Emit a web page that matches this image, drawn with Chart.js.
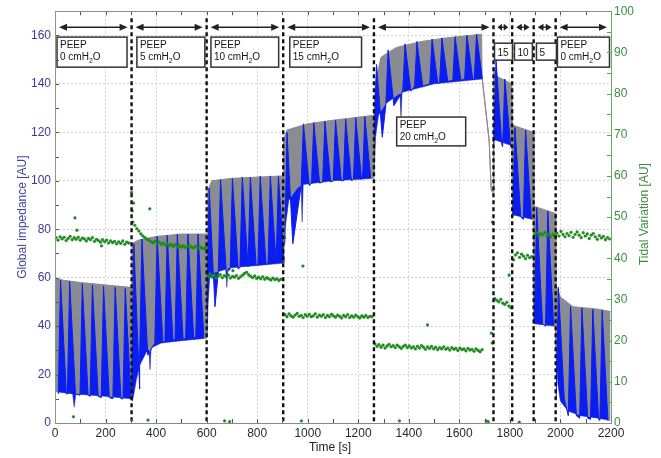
<!DOCTYPE html>
<html>
<head>
<meta charset="utf-8">
<script src="https://cdn.jsdelivr.net/npm/chart.js@4.4.1/dist/chart.umd.min.js"></script>
<style>
  html, body { margin: 0; padding: 0; background: #fff; }
  #wrap { width: 661px; height: 458px; }
</style>
</head>
<body>
<div id="wrap"><canvas id="eit" width="661" height="458"></canvas></div>
<script>
// PEEP trial: global impedance (left) + tidal variation (right)

const peepBounds = [0, 303, 600, 903, 1262, 1735, 1809, 1894, 1981, 2200];
const peepLabels = [
  ["PEEP", "0 cmH_2O"], ["PEEP", "5 cmH_2O"], ["PEEP", "10 cmH_2O"], ["PEEP", "15 cmH_2O"],
  ["PEEP", "20 cmH_2O"], ["15"], ["10"], ["5"], ["PEEP", "0 cmH_2O"],
];

// impedance trace envelope [t (s), AU]
const impUpper = [
  [0, 60], [30, 59], [100, 58], [200, 57], [300, 56], [303, 56], [304, 74], [330, 75.5],
  [400, 77], [500, 78], [600, 78], [602, 78], [605, 96], [620, 100], [700, 101], [800, 101.5],
  [903, 102], [904, 117], [918, 121], [1000, 123.5], [1100, 125], [1261, 127], [1262, 128],
  [1268, 141], [1290, 151], [1350, 155], [1450, 157.5], [1550, 159], [1688, 160.5], [1690, 143],
  [1718, 117], [1726, 97], [1734, 96], [1736, 147], [1750, 143], [1808, 140], [1810, 123],
  [1893, 120], [1895, 89.5], [1980, 86.5], [1982, 57], [2000, 52], [2050, 48], [2150, 47], [2198, 46],
];
const impLower = [
  [0, 13], [70, 12], [76, 6.5], [82, 12], [200, 11], [302, 10], [306, 9], [312, 12], [322, 18],
  [336, 24], [360, 29], [372, 30.5], [376, 22], [380, 31], [420, 33], [500, 34], [600, 35],
  [602, 36], [606, 50], [612, 60], [630, 62], [676, 63.5], [680, 56], [684, 64], [800, 65],
  [903, 66], [910, 80], [925, 92], [960, 97], [974, 98], [978, 83], [982, 98.5], [1100, 100],
  [1261, 101], [1263, 103], [1268, 118], [1280, 127], [1310, 132], [1365, 136], [1369, 126],
  [1373, 136.5], [1500, 140], [1688, 142], [1690, 142], [1718, 116], [1726, 96], [1734, 95],
  [1736, 117], [1808, 114.5], [1810, 86], [1893, 84], [1895, 41], [1980, 40], [1982, 30],
  [1990, 16], [2000, 9], [2030, 5], [2080, 3], [2150, 2], [2198, 1],
];

// blue teeth in each PEEP step: time, peak and foot (AU)
const toothTimes = [
  [22, 58, 108, 148, 192, 238, 278],
  [312, 344, 404, 444, 484, 526, 566],
  [610, 655, 702, 741, 773, 812, 852, 884],
  [918, 983, 1024, 1068, 1110, 1150, 1190, 1226],
  [1272, 1318, 1385, 1432, 1492, 1531, 1583, 1630, 1668],
  [1745, 1780], [1820, 1862], [1906, 1950],
  [1992, 2040, 2085, 2128, 2165],
];
const toothPeak = [
  [59, 58.5, 57.5, 57, 56.5, 56, 55.5],
  [74, 76, 77, 77.5, 78, 78, 78],
  [97, 100.5, 101, 101.5, 101.5, 102, 102, 102],
  [120, 123.5, 124, 124.5, 125, 125.5, 126, 126.5],
  [148, 154, 156.5, 157.5, 158.5, 159, 159.5, 160, 160.5],
  [150, 142], [122, 121], [89, 87.5],
  [56, 48, 47.5, 47, 46.5],
];
const toothFoot = [
  [12, 12, 11.5, 11, 10.5, 10, 10],
  [14, 28, 33, 34, 34.5, 35, 35.5],
  [48, 62, 63.5, 64.5, 65, 65.5, 66, 66],
  [74, 98, 99, 99.5, 100, 100, 100.5, 101],
  [118, 131, 137, 139, 140, 141, 141.5, 142, 142],
  [115, 114], [85, 84], [41, 40],
  [10, 3, 2, 1.5, 1],
];

// tidal variation, one sample every 8 s from the step start
const TIDAL_DT = 8;
const tidalStart = [4, 308, 606, 910, 1266, 1740, 1814, 1898, 1986];
const tidalValues = [
  [45.0,44.4,45.2,44.7,45.1,44.3,44.8,45.3,44.5,45.0,44.6,45.1,44.4,44.9,44.7,44.2,44.8,44.5,45.0,44.1,
   44.6,44.3,43.9,44.5,44.0,44.4,43.7,44.2,43.8,44.1,43.5,44.0,43.6,44.2,43.4,43.9,43.7],
  [48.8,48.0,47.2,46.6,45.9,45.4,45.0,44.6,44.4,44.0,43.8,44.1,43.6,43.9,43.4,43.7,43.2,43.5,43.0,43.4,
   42.9,43.3,42.8,43.1,42.7,43.0,42.6,42.9,43.2,42.7,42.5,42.9,42.4,42.8,42.5,42.3,42.6],
  [35.6,36.2,35.4,35.9,35.2,35.7,36.0,35.3,35.8,35.5,35.9,35.2,35.6,35.4,35.8,35.1,35.5,35.9,36.3,36.6,
   36.0,35.6,35.3,35.7,35.1,35.4,35.0,35.5,34.9,35.3,35.0,34.7,35.2,34.8,35.0,34.6,34.9],
  [26.3,25.8,26.5,26.0,25.7,26.2,26.6,25.9,26.1,25.6,26.3,25.9,26.4,25.8,26.0,26.5,25.7,26.2,25.9,26.3,
   25.6,26.1,25.8,26.4,26.0,25.7,26.2,25.9,25.5,26.1,25.8,26.3,25.6,26.0,25.7,26.2,25.8,25.5,26.0,25.7,
   26.1,25.6,25.9,25.8],
  [19.2,18.6,19.0,18.4,18.9,18.2,18.7,19.1,18.5,18.8,18.3,18.9,18.5,18.1,18.6,18.9,18.3,18.7,18.2,18.5,
   18.0,18.6,18.2,18.8,18.4,17.9,18.5,18.1,18.6,18.0,18.4,17.8,18.3,18.0,18.5,17.9,18.2,17.7,18.3,17.9,
   18.1,17.6,18.2,17.8,18.0,17.5,18.1,17.7,17.9,17.4,18.0,17.6,17.3,17.8],
  [30.2,29.8,29.4,30.0,29.1,28.8,29.3,28.4,28.0],
  [39.6,40.8,41.3,40.2,41.0,40.5,39.9,40.7,40.1,40.4],
  [45.6,46.2,45.4,46.0,45.7,46.3,45.5,45.9,45.2,45.8,45.4],
  [46.1,45.4,46.5,45.8,45.2,46.0,45.5,46.3,45.1,45.8,46.4,45.6,45.0,46.2,45.4,45.9,44.8,45.6,46.0,45.2,
   44.6,45.5,44.9,45.3,44.5,45.0,44.7],
];
const tidalOutT = [73, 79, 87, 184, 303, 305, 311, 368, 375, 671, 691, 704, 908, 975, 981, 1363, 1474, 1706, 1714, 1727, 1730, 1731, 1797, 1837];
const tidalOutV = [1.5, 49.8, 46.8, 43.0, 56.0, 51.5, 53.4, 0.7, 52.0, 0.5, 0.3, 37.0, 45.0, 0.5, 38.1, 0.5, 23.8, 0.5, 0.3, 21.8, 19.4, 48.8, 35.9, 0.2];

// ---- layout / style ----
const FONT = '"Liberation Sans", Arial, sans-serif';
const GRAY = "#8b8b94";
const BLUE = "#0a1ef2";
const GREEN = "#1c8a1c";
const TOOTH_LEAD = 9, TOOTH_TAIL = 23;

// label boxes in data units (time, left-axis AU)
const labelBoxes = [
  { t0: 8, t1: 285, top: 159.3, bottom: 146.9 },
  { t0: 324, t1: 593, top: 159.3, bottom: 146.9 },
  { t0: 617, t1: 885, top: 159.3, bottom: 146.9 },
  { t0: 929, t1: 1213, top: 159.3, bottom: 146.9 },
  { t0: 1352, t1: 1625, top: 126.3, bottom: 114.4 },
  { t0: 1739, t1: 1810, top: 156.8, bottom: 149.8 },
  { t0: 1818, t1: 1889, top: 156.8, bottom: 149.8 },
  { t0: 1905, t1: 1984, top: 156.8, bottom: 149.8 },
  { t0: 1988, t1: 2194, top: 159.3, bottom: 146.9 },
];

const toXY = (pairs) => pairs.map(([t, v]) => ({ x: t, y: v }));

const teeth = [];
toothTimes.forEach((seg, s) => {
  seg.forEach((t, i) => {
    teeth.push({ x: t - TOOTH_LEAD, y: toothFoot[s][i] });
    teeth.push({ x: t, y: toothPeak[s][i] });
    teeth.push({ x: t + TOOTH_TAIL, y: toothFoot[s][i] });
  });
  teeth.push({ x: seg[seg.length - 1] + TOOTH_TAIL + 1, y: null });
});

const tidal = [];
tidalValues.forEach((vals, s) => {
  vals.forEach((v, i) => tidal.push({ x: tidalStart[s] + i * TIDAL_DT, y: v }));
});
tidalOutT.forEach((t, i) => tidal.push({ x: t, y: tidalOutV[i] }));

function drawSubText(ctx, text, x, y, size) {
  const parts = text.split("_");
  ctx.font = `${size}px ${FONT}`;
  ctx.fillText(parts[0], x, y);
  let cx = x + ctx.measureText(parts[0]).width;
  for (let i = 1; i < parts.length; i++) {
    const sub = parts[i][0], rest = parts[i].slice(1);
    ctx.font = `${Math.round(size * 0.7)}px ${FONT}`;
    ctx.fillText(sub, cx, y + 3);
    cx += ctx.measureText(sub).width;
    ctx.font = `${size}px ${FONT}`;
    ctx.fillText(rest, cx, y);
    cx += ctx.measureText(rest).width;
  }
}

function arrow(ctx, x0, x1, y) {
  const h = Math.min(8, (x1 - x0) / 2.4);
  ctx.beginPath();
  ctx.moveTo(x0 + h * 0.5, y);
  ctx.lineTo(x1 - h * 0.5, y);
  ctx.stroke();
  ctx.beginPath();
  ctx.moveTo(x0, y); ctx.lineTo(x0 + h, y - 3.5); ctx.lineTo(x0 + h, y + 3.5); ctx.closePath();
  ctx.moveTo(x1, y); ctx.lineTo(x1 - h, y - 3.5); ctx.lineTo(x1 - h, y + 3.5); ctx.closePath();
  ctx.fill();
}

const overlay = {
  id: "overlay",
  afterDatasetsDraw(chart) {
    const { ctx, chartArea: a, scales } = chart;
    const x = scales.x, y = scales.y;
    ctx.save();

    // dashed step dividers
    ctx.strokeStyle = "#111";
    ctx.lineWidth = 2.4;
    ctx.setLineDash([4, 3]);
    peepBounds.slice(1, -1).forEach((t) => {
      const px = x.getPixelForValue(t);
      ctx.beginPath();
      ctx.moveTo(px, a.top + 7);
      ctx.lineTo(px, a.bottom);
      ctx.stroke();
    });
    ctx.setLineDash([]);

    // double arrows over each step
    ctx.strokeStyle = "#222";
    ctx.fillStyle = "#222";
    ctx.lineWidth = 1.4;
    const ay = y.getPixelForValue(163.4);
    for (let i = 0; i < peepBounds.length - 1; i++) {
      arrow(ctx, x.getPixelForValue(peepBounds[i]) + 4, x.getPixelForValue(peepBounds[i + 1]) - 4, ay);
    }

    // label boxes
    labelBoxes.forEach((b, i) => {
      const l = x.getPixelForValue(b.t0), r = x.getPixelForValue(b.t1);
      const t = y.getPixelForValue(b.top), btm = y.getPixelForValue(b.bottom);
      ctx.fillStyle = "#fff";
      ctx.fillRect(l, t, r - l, btm - t);
      ctx.strokeStyle = "#333";
      ctx.lineWidth = 1.5;
      ctx.strokeRect(l, t, r - l, btm - t);
      ctx.fillStyle = "#151515";
      ctx.textBaseline = "alphabetic";
      ctx.textAlign = "left";
      const lines = peepLabels[i];
      if (lines.length === 1) {
        drawSubText(ctx, lines[0], l + 3, btm - 4, 10);
      } else {
        drawSubText(ctx, lines[0], l + 3, t + 11, 10);
        drawSubText(ctx, lines[1], l + 3, t + 23, 10);
      }
    });
    ctx.restore();
  },
  afterDraw(chart) {
    const { ctx, chartArea: a, scales } = chart;
    const x = scales.x, y = scales.y, y2 = scales.y2;
    ctx.save();

    // inner tick marks (matlab style)
    ctx.lineWidth = 1;
    ctx.strokeStyle = "#555";
    ctx.beginPath();
    for (let t = 0; t <= 2200; t += 100) {
      const px = Math.round(x.getPixelForValue(t)) + 0.5;
      ctx.moveTo(px, a.bottom); ctx.lineTo(px, a.bottom - 4);
      ctx.moveTo(px, a.top); ctx.lineTo(px, a.top + 4);
    }
    for (let v = 0; v <= 170; v += 10) {
      const py = Math.round(y.getPixelForValue(v)) + 0.5;
      ctx.moveTo(a.left, py); ctx.lineTo(a.left + 4, py);
    }
    ctx.stroke();
    ctx.strokeStyle = "#5aa55a";
    ctx.beginPath();
    for (let v = 0; v <= 100; v += 5) {
      const py = Math.round(y2.getPixelForValue(v)) + 0.5;
      ctx.moveTo(a.right, py); ctx.lineTo(a.right - 4, py);
    }
    ctx.stroke();

    // frame
    ctx.strokeStyle = "#8a8a8a";
    ctx.strokeRect(Math.round(a.left) + 0.5, Math.round(a.top) + 0.5, Math.round(a.right - a.left), Math.round(a.bottom - a.top));
    ctx.strokeStyle = "#7f9f7f";
    ctx.beginPath();
    ctx.moveTo(Math.round(a.left) + 0.5, a.top); ctx.lineTo(Math.round(a.left) + 0.5, a.bottom);
    ctx.stroke();
    ctx.strokeStyle = "#62ad62";
    ctx.beginPath();
    ctx.moveTo(Math.round(a.right) + 0.5, a.top); ctx.lineTo(Math.round(a.right) + 0.5, a.bottom);
    ctx.stroke();

    // axis titles
    ctx.font = `12px ${FONT}`;
    ctx.textAlign = "center";
    ctx.textBaseline = "middle";
    ctx.fillStyle = "#222";
    ctx.fillText("Time [s]", 330, 448);

    ctx.save();
    ctx.translate(23, (a.top + a.bottom) / 2);
    ctx.rotate(-Math.PI / 2);
    ctx.fillStyle = "#4444a4";
    ctx.fillText("Global impedance [AU]", 0, 0);
    ctx.restore();

    ctx.save();
    ctx.translate(645, (a.top + a.bottom) / 2 - 3);
    ctx.rotate(-Math.PI / 2);
    ctx.fillStyle = "#3a8f3a";
    ctx.fillText("Tidal Variation [AU]", 0, 0);
    ctx.restore();

    ctx.restore();
  },
};

new Chart(document.getElementById("eit"), {
  type: "line",
  data: {
    datasets: [
      {
        label: "Tidal variation",
        data: tidal,
        yAxisID: "y2",
        showLine: false,
        pointRadius: 1.4,
        pointBorderWidth: 0.4,
        pointBackgroundColor: GREEN,
        pointBorderColor: GREEN,
        order: 0,
      },
      {
        label: "teeth",
        data: teeth,
        yAxisID: "y",
        borderColor: BLUE,
        backgroundColor: BLUE,
        borderWidth: 1,
        pointRadius: 0,
        fill: 3,
        spanGaps: false,
        order: 1,
      },
      {
        label: "upper",
        data: toXY(impUpper),
        yAxisID: "y",
        borderColor: GRAY,
        backgroundColor: GRAY,
        borderWidth: 1,
        pointRadius: 0,
        fill: 3,
        order: 2,
      },
      {
        label: "lower",
        data: toXY(impLower),
        yAxisID: "y",
        borderColor: GRAY,
        borderWidth: 1,
        pointRadius: 0,
        fill: false,
        order: 3,
      },
    ],
  },
  options: {
    responsive: false,
    animation: false,
    devicePixelRatio: 1,
    layout: { padding: { top: 11, left: 0, right: 0, bottom: 0 } },
    plugins: { legend: { display: false }, tooltip: { enabled: false } },
    elements: { line: { tension: 0 } },
    scales: {
      x: {
        type: "linear",
        min: 0,
        max: 2200,
        ticks: {
          stepSize: 200, autoSkip: false, maxRotation: 0, padding: 3, color: "#2a2a2a",
          font: { size: 12, family: FONT }, callback: (v) => String(v),
        },
        grid: { color: "#d2d2d2", drawTicks: false },
        border: { display: false, dash: [2, 2] },
        afterFit: (s) => { s.height = 35; },
      },
      y: {
        position: "left",
        min: 0,
        max: 170,
        ticks: { stepSize: 20, padding: 4, color: "#3b3b92", font: { size: 12, family: FONT } },
        afterBuildTicks: (s) => { s.ticks = s.ticks.filter((t) => t.value <= 160); },
        grid: { color: "#d2d2d2", drawTicks: false },
        border: { display: false, dash: [2, 2] },
        afterFit: (s) => { s.width = 55; },
      },
      y2: {
        position: "right",
        min: 0,
        max: 100,
        ticks: { stepSize: 10, padding: 3, color: "#3a8f3a", font: { size: 12, family: FONT } },
        grid: { display: false, drawTicks: false },
        border: { display: false },
        afterFit: (s) => { s.width = 50; },
      },
    },
  },
  plugins: [overlay],
});
</script>
</body>
</html>
